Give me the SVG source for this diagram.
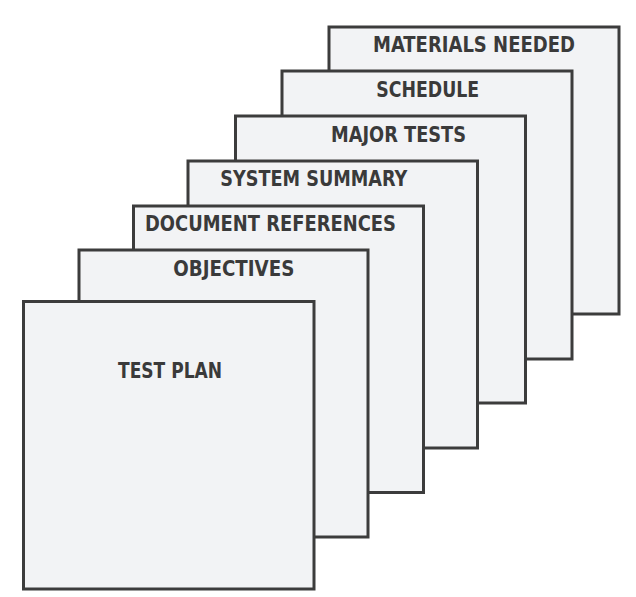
<svg xmlns="http://www.w3.org/2000/svg" width="636" height="597" viewBox="0 0 636 597">
<style>
.pg{fill:#f2f3f5;stroke:#3c3c3c;stroke-width:3}
.lb{font-family:"DejaVu Sans Condensed","DejaVu Sans",sans-serif;font-weight:bold;font-size:21px;fill:#3a3a3a;text-anchor:middle}
</style>
<rect width="636" height="597" fill="#ffffff"/>
<g id="materials-needed"><rect class="pg" x="329" y="27" width="290" height="287"/><text class="lb" x="474" y="52" textLength="202" lengthAdjust="spacingAndGlyphs">MATERIALS NEEDED</text></g>
<g id="schedule"><rect class="pg" x="282" y="71" width="290" height="288"/><text class="lb" x="427.7" y="97" textLength="103" lengthAdjust="spacingAndGlyphs">SCHEDULE</text></g>
<g id="major-tests"><rect class="pg" x="235.5" y="116" width="290" height="287"/><text class="lb" x="398.5" y="141.5" textLength="135" lengthAdjust="spacingAndGlyphs">MAJOR TESTS</text></g>
<g id="system-summary"><rect class="pg" x="188" y="161" width="289.5" height="287"/><text class="lb" x="313.8" y="186" textLength="187" lengthAdjust="spacingAndGlyphs">SYSTEM SUMMARY</text></g>
<g id="document-references"><rect class="pg" x="133.5" y="206" width="290" height="286.5"/><text class="lb" x="270.5" y="231" textLength="251" lengthAdjust="spacingAndGlyphs">DOCUMENT REFERENCES</text></g>
<g id="objectives"><rect class="pg" x="79" y="250" width="289" height="287"/><text class="lb" x="233.8" y="276" textLength="121" lengthAdjust="spacingAndGlyphs">OBJECTIVES</text></g>
<g id="test-plan"><rect class="pg" x="23.5" y="301.5" width="290.5" height="287.5"/><text class="lb" x="170" y="378" textLength="104" lengthAdjust="spacingAndGlyphs">TEST PLAN</text></g>
</svg>
